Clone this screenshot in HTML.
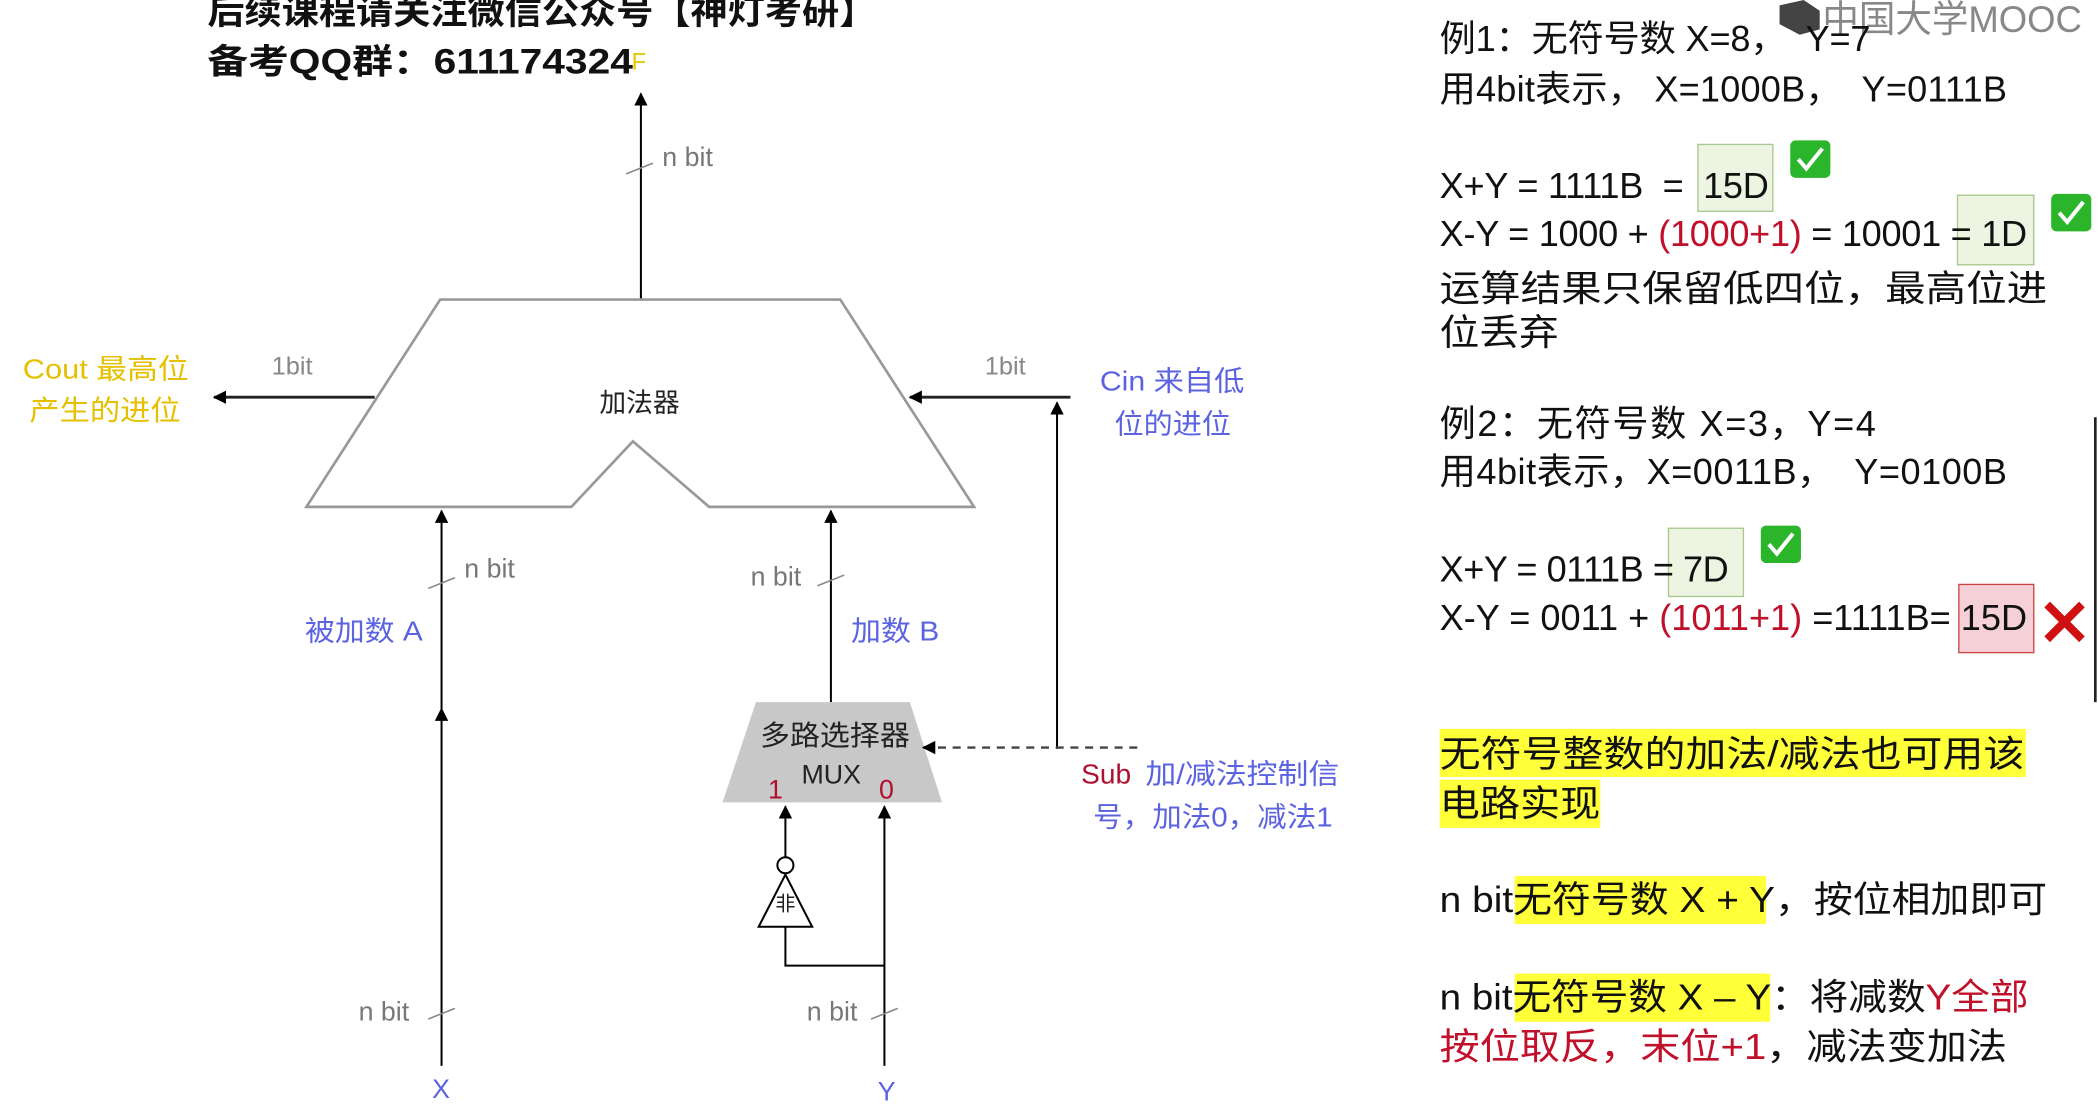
<!DOCTYPE html>
<html><head><meta charset="utf-8"><style>
html,body{margin:0;padding:0;background:#fff;width:2098px;height:1110px;overflow:hidden}
svg{display:block}
text{font-family:"Liberation Sans","Noto Sans CJK SC",sans-serif}
</style></head><body>
<svg width="2098" height="1110" viewBox="0 0 1568 830" preserveAspectRatio="none">
<defs>
<marker id="ah" markerWidth="10" markerHeight="10" refX="9" refY="5" orient="auto" markerUnits="userSpaceOnUse"><path d="M0,0 L10,5 L0,10 z" fill="#000"/></marker>
</defs>
<!-- header -->
<text x="155" y="18" font-size="26" font-weight="bold" fill="#111" textLength="500" lengthAdjust="spacingAndGlyphs">后续课程请关注微信公众号【神灯考研】</text>
<text x="155" y="55" font-size="26" font-weight="bold" fill="#111" textLength="318" lengthAdjust="spacingAndGlyphs">备考QQ群：611174324</text>
<text x="472" y="52" font-size="18" fill="#e6c800">F</text>

<!-- output -->
<line x1="479" y1="224" x2="479" y2="70" stroke="#000" stroke-width="1.5" marker-end="url(#ah)"/>
<line x1="468" y1="130" x2="488" y2="122" stroke="#888" stroke-width="1.2"/>
<text x="495" y="124" font-size="20" fill="#777">n bit</text>

<!-- adder -->
<polygon points="329,224 628,224 728,379 530,379 473,330 427,379 229,379" fill="#fff" stroke="#999" stroke-width="2"/>
<text x="478" y="308" font-size="20" text-anchor="middle" fill="#222">加法器</text>

<!-- cout -->
<line x1="280" y1="297" x2="160" y2="297" stroke="#222" stroke-width="2.2" marker-end="url(#ah)"/>
<text x="203" y="280" font-size="19" fill="#888">1bit</text>
<text x="17" y="283" font-size="21" fill="#e6c000" textLength="124" lengthAdjust="spacingAndGlyphs">Cout 最高位</text>
<text x="22" y="314" font-size="21" fill="#e6c000" textLength="113" lengthAdjust="spacingAndGlyphs">产生的进位</text>

<!-- cin -->
<line x1="800" y1="297" x2="680" y2="297" stroke="#222" stroke-width="2.2" marker-end="url(#ah)"/>
<text x="736" y="280" font-size="19" fill="#888">1bit</text>
<text x="822" y="292" font-size="21" fill="#5b63e0" textLength="108" lengthAdjust="spacingAndGlyphs">Cin 来自低</text>
<text x="833" y="324" font-size="21" fill="#5b63e0" textLength="87" lengthAdjust="spacingAndGlyphs">位的进位</text>
<line x1="790" y1="560" x2="790" y2="301" stroke="#000" stroke-width="1.5" marker-end="url(#ah)"/>

<!-- A -->
<line x1="330" y1="797" x2="330" y2="530" stroke="#000" stroke-width="1.5" marker-end="url(#ah)"/>
<line x1="330" y1="530" x2="330" y2="382" stroke="#000" stroke-width="1.5" marker-end="url(#ah)"/>
<line x1="320" y1="440" x2="340" y2="432" stroke="#888" stroke-width="1.2"/>
<text x="347" y="432" font-size="20" fill="#777">n bit</text>
<text x="228" y="479" font-size="21" fill="#5b63e0" textLength="88" lengthAdjust="spacingAndGlyphs">被加数 A</text>
<line x1="320" y1="762" x2="340" y2="754" stroke="#888" stroke-width="1.2"/>
<text x="268" y="763" font-size="20" fill="#777">n bit</text>
<text x="323" y="821" font-size="20" fill="#5b63e0">X</text>

<!-- B -->
<line x1="621" y1="525" x2="621" y2="382" stroke="#000" stroke-width="1.5" marker-end="url(#ah)"/>
<line x1="611" y1="438" x2="631" y2="430" stroke="#888" stroke-width="1.2"/>
<text x="561" y="438" font-size="20" fill="#777">n bit</text>
<text x="636" y="479" font-size="21" fill="#5b63e0" textLength="66" lengthAdjust="spacingAndGlyphs">加数 B</text>

<!-- MUX -->
<polygon points="565,525 680,525 704,600 540,600" fill="#c8c8c8"/>
<text x="568" y="557" font-size="21" fill="#222" textLength="112" lengthAdjust="spacingAndGlyphs">多路选择器</text>
<text x="599" y="586" font-size="20" fill="#222">MUX</text>
<text x="574" y="597" font-size="20" fill="#b01030">1</text>
<text x="657" y="597" font-size="20" fill="#b01030">0</text>
<line x1="850" y1="559" x2="690" y2="559" stroke="#444" stroke-width="1.8" stroke-dasharray="6,5" marker-end="url(#ah)"/>
<text x="808" y="586" font-size="21" fill="#b01030">Sub</text>
<text x="856" y="586" font-size="21" fill="#5b63e0" textLength="145" lengthAdjust="spacingAndGlyphs">加/减法控制信</text>
<text x="817" y="618" font-size="21" fill="#5b63e0" textLength="179" lengthAdjust="spacingAndGlyphs">号，加法0，减法1</text>

<!-- Y path -->
<line x1="661" y1="797" x2="661" y2="603" stroke="#000" stroke-width="1.5" marker-end="url(#ah)"/>
<polyline points="661,722 587,722 587,693" fill="none" stroke="#000" stroke-width="1.5"/>
<polygon points="567,693 607,693 587,654" fill="#fff" stroke="#000" stroke-width="1.5"/>
<text x="587" y="681" font-size="15" text-anchor="middle" fill="#222">非</text>
<circle cx="587" cy="647" r="6" fill="#fff" stroke="#000" stroke-width="1.5"/>
<line x1="587" y1="641" x2="587" y2="603" stroke="#000" stroke-width="1.5" marker-end="url(#ah)"/>
<line x1="651" y1="762" x2="671" y2="754" stroke="#888" stroke-width="1.2"/>
<text x="603" y="763" font-size="20" fill="#777">n bit</text>
<text x="656" y="823" font-size="20" fill="#5b63e0">Y</text>

<!-- MOOC logo -->
<polygon points="1330,4 1348,0 1360,8 1360,22 1345,26 1330,18" fill="#444"/>
<text x="1362" y="24" font-size="28" fill="#888" textLength="194" lengthAdjust="spacingAndGlyphs">中国大学MOOC</text>

<!-- right text -->
<g font-size="27" fill="#111">
<text x="1076" y="38" textLength="322" lengthAdjust="spacing" xml:space="preserve">例1：无符号数 X=8，  Y=7</text>
<text x="1076" y="76" textLength="424" lengthAdjust="spacing" xml:space="preserve">用4bit表示， X=1000B，  Y=0111B</text>
<rect x="1269" y="108" width="56" height="50" fill="#edf4e2" stroke="#a8c890"/>
<text x="1076" y="148" textLength="246" lengthAdjust="spacing" xml:space="preserve">X+Y = 1111B  =  15D</text>
<rect x="1463" y="146" width="57" height="52" fill="#edf4e2" stroke="#a8c890"/>
<text x="1076" y="184" textLength="439" lengthAdjust="spacing">X-Y = 1000 + <tspan fill="#c0102a">(1000+1)</tspan> = 10001 = 1D</text>
<text x="1076" y="225" textLength="454" lengthAdjust="spacingAndGlyphs">运算结果只保留低四位，最高位进</text>
<text x="1076" y="258" textLength="89" lengthAdjust="spacingAndGlyphs">位丢弃</text>
<text x="1076" y="326" textLength="326" lengthAdjust="spacing">例2：无符号数 X=3，Y=4</text>
<text x="1076" y="362" textLength="424" lengthAdjust="spacing" xml:space="preserve">用4bit表示，X=0011B，  Y=0100B</text>
<rect x="1247" y="395" width="56" height="51" fill="#edf4e2" stroke="#a8c890"/>
<text x="1076" y="435" textLength="216" lengthAdjust="spacing">X+Y = 0111B = 7D</text>
<rect x="1464" y="437" width="56" height="51" fill="#f5d0d6" stroke="#c44"/>
<text x="1076" y="471" textLength="439" lengthAdjust="spacing">X-Y = 0011 + <tspan fill="#c0102a">(1011+1)</tspan> =1111B= 15D</text>
<rect x="1076" y="545" width="438" height="36" fill="#ffff3a"/>
<rect x="1076" y="583" width="120" height="36" fill="#ffff3a"/>
<text x="1076" y="573" textLength="437" lengthAdjust="spacingAndGlyphs">无符号整数的加法/减法也可用该</text>
<text x="1076" y="610" textLength="120" lengthAdjust="spacingAndGlyphs">电路实现</text>
<rect x="1132" y="655" width="188" height="36" fill="#ffff3a"/>
<text x="1076" y="682" textLength="454" lengthAdjust="spacingAndGlyphs">n bit无符号数 X + Y，按位相加即可</text>
<rect x="1132" y="728" width="191" height="36" fill="#ffff3a"/>
<text x="1076" y="755" textLength="440" lengthAdjust="spacingAndGlyphs">n bit无符号数 X – Y：将减数<tspan fill="#c0102a">Y全部</tspan></text>
<text x="1076" y="792" textLength="424" lengthAdjust="spacingAndGlyphs"><tspan fill="#c0102a">按位取反，末位+1</tspan>，减法变加法</text>
</g>
<!-- checks -->
<g>
<rect x="1338" y="105" width="30" height="28" rx="4" fill="#2bb52b"/><path d="M1344,119 l6,7 l12,-15" stroke="#fff" stroke-width="3" fill="none"/>
<rect x="1533" y="145" width="30" height="28" rx="4" fill="#2bb52b"/><path d="M1539,159 l6,7 l12,-15" stroke="#fff" stroke-width="3" fill="none"/>
<rect x="1316" y="393" width="30" height="28" rx="4" fill="#2bb52b"/><path d="M1322,407 l6,7 l12,-15" stroke="#fff" stroke-width="3" fill="none"/>
<path d="M1530,452 l26,26 M1556,452 l-26,26" stroke="#d01010" stroke-width="6"/>
</g>
<line x1="1566" y1="312" x2="1566" y2="525" stroke="#222" stroke-width="2"/>
</svg>
</body></html>
